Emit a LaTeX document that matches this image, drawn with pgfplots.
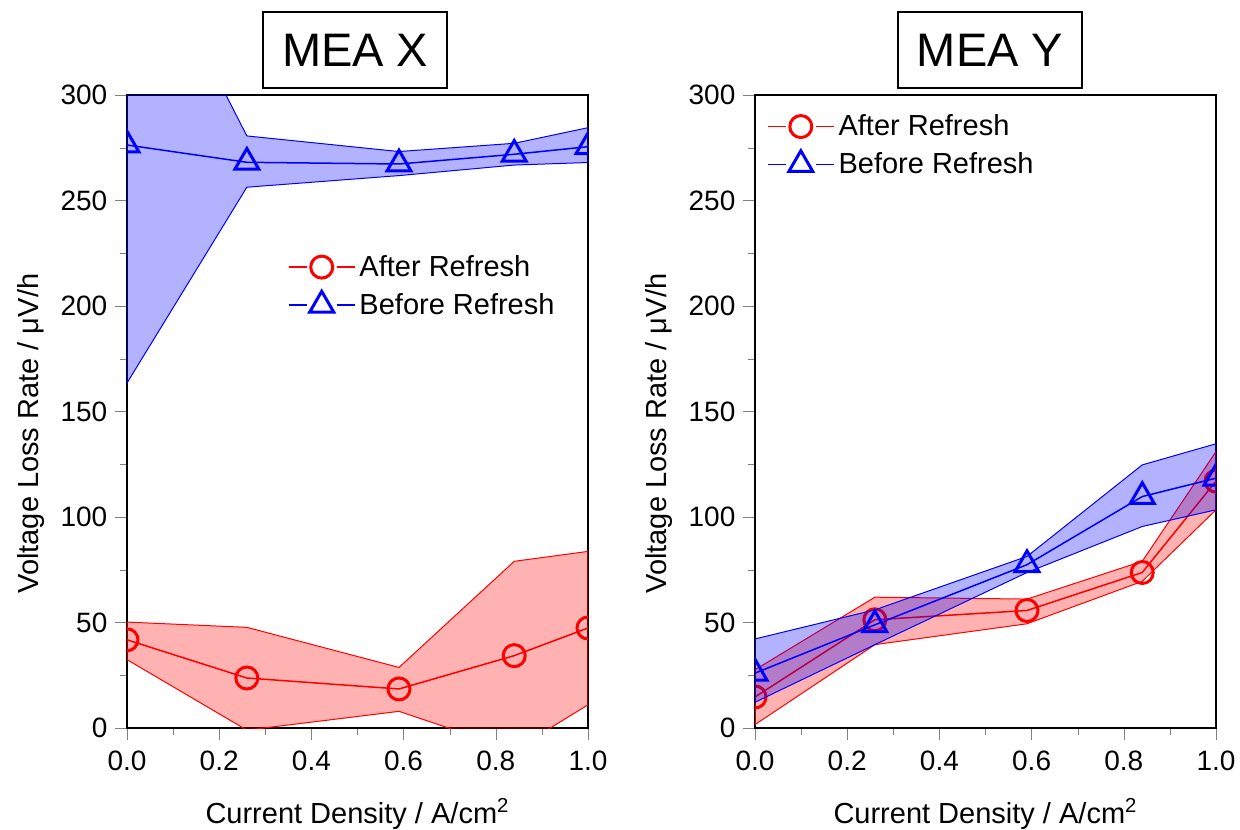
\documentclass[border=0pt]{standalone}
\usepackage{pgfplots}
\pgfplotsset{compat=1.18}
\usepackage{fontspec}
\setmainfont{Liberation Sans}

% 1 px of the reference = 0.5pt
\pgfplotsset{
  mea/.style={
    scale only axis, width=230.5pt, height=316.5pt,
    xmin=0, xmax=1, ymin=0, ymax=300,
    xtick={0,0.2,0.4,0.6,0.8,1}, ytick={0,50,100,150,200,250,300},
    minor x tick num=1, minor y tick num=1,
    tick align=outside, xtick pos=bottom, ytick pos=left,
    major tick length=6pt, minor tick length=3.5pt,
    every axis/.append style={line width=1pt},
    clip marker paths=true,
    /pgf/number format/assume math mode=true,
    xticklabel style={yshift=-1.5pt,
      /pgf/number format/.cd, fixed, fixed zerofill, precision=1},
    tick label style={font=\fontsize{14}{16}\selectfont},
    label style={font=\fontsize{14.5}{17}\selectfont},
    xlabel={Current Density / A/cm\textsuperscript{2}},
    ylabel={Voltage Loss Rate / μV/h},
    xlabel style={at={(axis description cs:0.5,0)}, anchor=base, yshift=-47.5pt, inner sep=0pt},
    % the label is turned by 90 degrees, so yshift moves it to the left
    ylabel style={at={(axis description cs:0,0.465)}, anchor=south, yshift=40.5pt, inner sep=0pt},
    title style={draw, line width=0.75pt, anchor=south, yshift=-3pt,
      minimum width=92pt, minimum height=38pt, inner sep=0pt,
      font=\fontsize{23.5}{28}\selectfont},
    legend style={draw=none, fill=none, inner sep=0pt, row sep=3pt,
      font=\fontsize{14.5}{17}\selectfont},
    legend cell align=left,
    legend image code/.code={
      \draw[#1, mark=none] (0pt,0pt) -- (9pt,0pt);
      \draw[#1, mark=none] (24pt,0pt) -- (33pt,0pt);
      \draw[#1, only marks] plot coordinates {(16.5pt,0pt)};},
    band/.style={line width=0.5pt, fill opacity=0.3, forget plot},
    after/.style={red, line width=0.75pt, mark=o, mark size=5.5pt,
      mark options={line width=1.5pt}},
    before/.style={blue, line width=0.75pt, mark=triangle, mark size=6.9pt,
      mark options={line width=1.5pt}},
  }
}

\begin{document}
\begin{tikzpicture}
\path[use as bounding box] (-63.5pt,-50.5pt) rectangle (556.5pt,364pt);

\begin{axis}[mea, at={(0pt,0pt)}, anchor=south west,
  title={MEA X}, title style={at={(0.495,1)}},
  legend style={at={(axis description cs:0.347,0.755)}, anchor=north west}]
  \addplot[band, draw=red, fill=red] coordinates {
    (0,50.2) (0.26,47.7) (0.59,28.7) (0.84,79) (1,83.7)
    (1,11) (0.84,-10.5) (0.59,7.9) (0.26,-1) (0,32.4)} -- cycle;
  \addplot[after] coordinates {
    (0,41.8) (0.26,23.7) (0.59,18.5) (0.84,34.3) (1,47.4)};
  \addlegendentry{After Refresh}
  \addplot[band, draw=blue, fill=blue] coordinates {
    (0,392) (0.26,280.6) (0.59,273.2) (0.84,277.1) (1,284.5)
    (1,268) (0.84,266.8) (0.59,261.8) (0.26,256.3) (0,163.5)} -- cycle;
  \addplot[before] coordinates {
    (0,276.3) (0.26,268.1) (0.59,267.3) (0.84,271.9) (1,275.5)};
  \addlegendentry{Before Refresh}
\end{axis}

\begin{axis}[mea, at={(314pt,0pt)}, anchor=south west,
  title={MEA Y}, title style={at={(0.51,1)}},
  legend style={at={(axis description cs:0.024,0.977)}, anchor=north west}]
  \addplot[band, draw=red, fill=red] coordinates {
    (0,27.6) (0.26,62) (0.59,61.1) (0.84,79) (1,131)
    (1,103.4) (0.84,69.5) (0.59,49.4) (0.26,39.5) (0,1.6)} -- cycle;
  \addplot[after] coordinates {
    (0,14.7) (0.26,51.3) (0.59,55.7) (0.84,73.7) (1,117)};
  \addlegendentry{After Refresh}
  \addplot[band, draw=blue, fill=blue] coordinates {
    (0,42.2) (0.26,56) (0.59,81.3) (0.84,124.7) (1,134.7)
    (1,103.4) (0.84,95.5) (0.59,73.7) (0.26,39.5) (0,12.2)} -- cycle;
  \addplot[before] coordinates {
    (0,26) (0.26,48.9) (0.59,77.4) (0.84,109.7) (1,118.4)};
  \addlegendentry{Before Refresh}
\end{axis}
\end{tikzpicture}
\end{document}
